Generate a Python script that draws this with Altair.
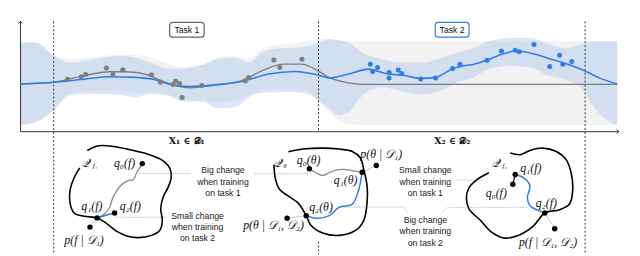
import altair as alt
import pandas as pd

# ---------------- data (diagram units = screen pixels) ----------------
# GP bands: common x grid
band_x = [20, 37, 54, 70, 87, 103, 120, 137, 153, 170, 185, 205, 220, 238, 252, 265, 282, 298, 312, 322,
          333, 343, 353, 367, 387, 407, 427, 447, 463, 480, 495, 518, 538, 555, 572, 588, 600, 612, 625]
blue_hi = [41, 41.7, 54.3, 61.7, 60, 56.7, 55, 56.7, 61.7, 68, 67.7, 64, 58, 56.7, 61.7, 51.7, 47.3, 46.7, 45, 41.7,
           37.7, 39, 41.7, 51.7, 58.3, 61.7, 61.7, 56.7, 51.7, 46.7, 40, 36.7, 36.7, 43, 47, 43.3, 40, 40, 40]
blue_lo = [125, 121.7, 110, 95, 93.3, 93.3, 94, 96.7, 93.3, 95, 101, 101, 108, 106.7, 96.7, 92.3, 91.7, 91.7, 93.3, 100,
           108, 115, 111.7, 95, 86.7, 91, 94, 90, 81.7, 76.7, 68.3, 65, 66.7, 75, 79, 86, 105, 118, 125]
grey_hi = [41, 41.7, 54.3, 58, 57, 55, 54, 54, 57, 63, 66, 64, 57, 55, 58, 48, 44, 42, 40, 38.3,
           38, 39, 40, 40, 40, 40, 40, 40, 40, 40, 40, 40, 40, 40, 40, 40, 40, 40, 40]
grey_lo = [125, 121.7, 110, 93, 91, 90, 90, 92, 92, 94, 99, 100, 102, 100, 95, 90, 89, 89, 91, 100,
           112, 120, 124, 125, 125, 125, 125, 125, 125, 125, 125, 125, 125, 125, 125, 125, 125, 125, 125]

grey_mean_x = [20, 54, 77, 93, 110, 127, 150, 163, 172, 192, 218, 245, 265, 288, 305, 322, 333, 347, 367, 625]
grey_mean_y = [83.5, 81.7, 76.7, 73.3, 71, 71, 74.3, 80, 83.3, 87.3, 84.3, 80, 70, 63.3, 63.3, 70, 76.7, 81, 83.8, 83.8]

blue_mean_x = [20, 54, 87, 110, 137, 157, 170, 192, 218, 248, 272, 298, 322, 333, 353, 373, 393, 407, 426, 441,
               458, 470, 480, 493, 508, 523, 542, 558, 575, 592, 608, 625]
blue_mean_y = [83.3, 81.7, 78.3, 76, 76.7, 79, 83.3, 86, 84.3, 80, 73.3, 70.7, 74.3, 77.3, 73.3, 68.3, 73.3, 74.3, 77.7, 76.7,
               68.3, 65, 63.3, 59.3, 53.3, 50, 53.3, 58.3, 63.3, 70, 77.7, 83.3]

task1_x = [68.3, 82.3, 86.7, 107.7, 114.3, 124.3, 153.3, 162.3, 175, 177.7, 181.7, 184.3, 204.3, 248.3, 251.7, 277.3, 283.3, 305.7]
task1_y = [78.6, 76, 73.7, 67.3, 73.7, 69, 74, 81.5, 83.8, 80.5, 83, 97, 85, 80, 76.7, 59.2, 66.7, 58.3]

task2_x = [375, 377.3, 382.3, 394, 394, 403.3, 406.7, 426, 441, 458.3, 465.7, 493.3, 507.7, 521.7, 525.7, 540.7, 556.7, 566.7, 570, 579]
task2_y = [63.3, 70.7, 66.7, 71.7, 77.3, 69.3, 72.7, 78.3, 77.3, 67.7, 63.3, 59.3, 50, 49.3, 50.7, 43.3, 65.7, 54.3, 63.3, 60.7]

# dashed task boundaries (x, y-start, y-end)
dash_x = [54.3, 322.5, 322.5, 592.5]
dash_y1 = [20, 20, 243, 20]
dash_y2 = [256, 131, 256, 256]

# task tags
tag_names = ["Task 1", "Task 2"]
tag_x1 = [171.7, 440.7]
tag_x2 = [206.7, 475]
tag_y1 = [21, 21]
tag_y2 = [36, 36]

# blob outlines
blob1_x = [88.3, 100, 115, 131.7, 148.3, 163.3, 171.7, 173.3, 170, 165, 162.7, 164.3, 161.7, 153.3, 140, 128.3,
           118.3, 108.3, 98.3, 85, 75, 70.7, 71, 75, 80.7]
blob1_y = [150.7, 146, 146.7, 150, 154, 160, 168.3, 178.3, 188.3, 198.3, 210, 221.7, 231.7, 236.7, 239, 237.3,
           232.7, 225, 219, 217.3, 214, 203.3, 190, 178.3, 168.3]
blob2_x = [277.3, 279, 283, 292, 302, 310, 315, 326.7, 343.3, 360, 368.3, 371.7, 371.7, 368.3, 365, 356.7, 343.3, 326.7, 306.7, 292]
blob2_y = [165, 180, 190, 197, 204, 216.7, 226.7, 234.3, 236.7, 231.7, 221.7, 203.3, 186.7, 170, 158.3, 151.7, 149.3, 148.3, 149.3, 152]
blob3_x = [495, 483.3, 475, 472.3, 475, 486.7, 496.7, 510, 523.3, 540, 551.7, 566.7, 576.7, 580, 578.3, 573.3, 563.3,
           550, 536.7, 526.7, 516.7]
blob3_y = [173.3, 180, 188.3, 198.3, 210, 221.7, 232.7, 239.3, 237.3, 227.3, 214, 210.7, 205, 190, 173.3, 160, 151.7,
           148.3, 150.7, 155, 153.3]

# optimisation paths
grey_path1_x = [144, 138.3, 135, 128.3, 121.7, 115, 110, 103.3, 98.3]
grey_path1_y = [164, 173.3, 180, 181.7, 186.7, 196.7, 210, 216.7, 219]
blue_path1_x = [98.3, 108, 116]
blue_path1_y = [219, 216, 214]
grey_path2_x = [313.3, 320, 326.7, 333.3, 340, 350, 360, 366.7]
grey_path2_y = [169.3, 173.3, 176, 173.3, 170.7, 170, 171.7, 172.7]
blue_path2_x = [366.7, 363.3, 356.7, 343.3, 333.3, 320, 310]
blue_path2_y = [172.7, 190, 205, 208.3, 216.7, 219.3, 216.7]
blue_path3_x = [521.7, 530, 536.7, 534, 536.7, 543.3, 551.7]
blue_path3_y = [175, 178.3, 186.7, 198.3, 206.7, 210.7, 214]

# dots in the diagrams
dot_x = [144, 98.3, 116, 91, 313.3, 366.7, 381, 310, 290.7, 521.7, 519.3, 551.7, 561.7]
dot_y = [164, 219, 214, 228.3, 169.3, 172.7, 166, 216.7, 219.3, 175, 185, 214, 230]

# thin grey links (id, x, y)
link_id = ["a", "a", "b", "b", "c", "c", "d", "d", "e", "e"]
link_x = [91, 98.3, 381, 366.7, 290.7, 310, 561.7, 551.7, 519.3, 521.7]
link_y = [228.3, 219, 166, 172.7, 219.3, 216.7, 230, 214, 185, 175]

# dotted connectors to the captions
conn_id = ["c1", "c1", "c2", "c2", "c3", "c3", "c4", "c4", "c5", "c5", "c5", "c6", "c6", "c6"]
conn_x = [140, 193, 258, 312, 116.7, 168, 461.7, 488, 343.3, 408, 413, 448.3, 453.3, 534]
conn_y = [174, 174, 174.3, 174.3, 218.3, 218.3, 180.7, 180.7, 208, 208, 214, 212.7, 208.3, 208.3]

# captions
cap_text = ["Big change\nwhen training\non task 1", "Small change\nwhen training\non task 2",
            "Small change\nwhen training\non task 1", "Big change\nwhen training\non task 2"]
cap_x = [225.7, 200, 430.7, 430.7]
cap_y = [171, 216.7, 171, 221]

# math labels
math_text = ["𝒬", "q₀(f)", "q₁(f)", "q₂(f)", "p(f | 𝒟₁)",
             "𝒬", "q₀(θ)", "q₁(θ)", "p(θ | 𝒟₁)", "q₂(θ)", "p(θ | 𝒟₁, 𝒟₂)",
             "𝒬", "q₁(f)", "q₀(f)", "q₂(f)", "p(f | 𝒟₁, 𝒟₂)"]
math_x = [86, 126, 93, 132, 85,
          280, 312.5, 350, 386, 325, 277,
          501, 537.5, 502.5, 553.3, 555]
math_y = [163, 163, 207, 207, 241,
          163, 160, 181, 154, 208.5, 226,
          163, 168.5, 193.5, 203.5, 243.5]
sub_text = ["f₁", "θ", "f₂"]
sub_x = [96, 288.5, 511]
sub_y = [166, 166, 166]

xlab_text = ["X₁ ∈ 𝒟₁", "X₂ ∈ 𝒟₂"]
xlab_x = [189, 458]
xlab_y = [141, 141]

# ---------------- build ----------------
xs = alt.Scale(domain=[8, 640], nice=False, zero=False)
ys = alt.Scale(domain=[8, 256], nice=False, zero=False, reverse=True)
X = lambda f="x": alt.X(f + ":Q", scale=xs, axis=None)
Y = lambda f="y": alt.Y(f + ":Q", scale=ys, axis=None)

BLUE = "#2f7ee6"
GREY = "#7f7f7f"

band = pd.DataFrame({"x": band_x, "bhi": blue_hi, "blo": blue_lo, "ghi": grey_hi, "glo": grey_lo})
grey_band = alt.Chart(band).mark_area(color="#dcdcdc", opacity=0.38, interpolate="monotone").encode(
    x=X(), y=Y("ghi"), y2="glo:Q")
blue_band = alt.Chart(band).mark_area(color="#a9c5ec", opacity=0.42, interpolate="monotone").encode(
    x=X(), y=Y("bhi"), y2="blo:Q")

gm = pd.DataFrame({"x": grey_mean_x, "y": grey_mean_y})
bm = pd.DataFrame({"x": blue_mean_x, "y": blue_mean_y})
grey_line = alt.Chart(gm).mark_line(color=GREY, strokeWidth=1.4, interpolate="monotone").encode(x=X(), y=Y())
blue_line = alt.Chart(bm).mark_line(color=BLUE, strokeWidth=1.6, interpolate="monotone").encode(x=X(), y=Y())

p1 = alt.Chart(pd.DataFrame({"x": task1_x, "y": task1_y})).mark_circle(color=GREY, size=26, opacity=1).encode(x=X(), y=Y())
p2 = alt.Chart(pd.DataFrame({"x": task2_x, "y": task2_y})).mark_circle(color=BLUE, size=26, opacity=1).encode(x=X(), y=Y())

# axes of the top panel
axes_df = pd.DataFrame({"id": ["v", "v", "h", "h"], "x": [20.7, 20.7, 20.7, 626.5], "y": [20, 131.7, 131.7, 131.7]})
axes = alt.Chart(axes_df).mark_line(color="#333", strokeWidth=1).encode(x=X(), y=Y(), detail="id:N")
arrow_up = alt.Chart(pd.DataFrame({"x": [20.7], "y": [20]})).mark_point(
    shape="M-1,1L0,0L1,1", filled=False, color="#333", size=18, strokeWidth=1, opacity=1).encode(x=X(), y=Y())
arrow_rt = alt.Chart(pd.DataFrame({"x": [626.5], "y": [131.7]})).mark_point(
    shape="M-1,-1L0,0L-1,1", filled=False, color="#333", size=18, strokeWidth=1, opacity=1).encode(x=X(), y=Y())

dashes = alt.Chart(pd.DataFrame({"x": dash_x, "y": dash_y1, "y2": dash_y2})).mark_rule(
    color="#333", strokeWidth=1, strokeDash=[2, 2]).encode(x=X(), y=Y(), y2="y2:Q")

tags = pd.DataFrame({"t": tag_names, "x": tag_x1, "x2": tag_x2, "y": tag_y1, "y2": tag_y2,
                     "cx": [(a + b) / 2 for a, b in zip(tag_x1, tag_x2)],
                     "cy": [(a + b) / 2 for a, b in zip(tag_y1, tag_y2)]})
tag_box = alt.Chart(tags).mark_rect(fill="white", strokeWidth=1.2, cornerRadius=3).encode(
    x=X(), x2="x2:Q", y=Y(), y2="y2:Q",
    stroke=alt.Stroke("t:N", scale=alt.Scale(domain=tag_names, range=["#666", BLUE]), legend=None))
tag_txt = alt.Chart(tags).mark_text(font="Liberation Sans", fontSize=8.8, color="#111", baseline="middle").encode(
    x=X("cx"), y=Y("cy"), text="t:N")

xlab = alt.Chart(pd.DataFrame({"t": xlab_text, "x": xlab_x, "y": xlab_y})).mark_text(
    font="DejaVu Serif", fontSize=9.5, fontWeight="bold", color="#111", baseline="middle").encode(
    x=X(), y=Y(), text="t:N")

# blobs
rows = []
for bid, bx, by in (("b1", blob1_x, blob1_y), ("b2", blob2_x, blob2_y), ("b3", blob3_x, blob3_y)):
    for i, (a, b) in enumerate(zip(bx, by)):
        rows.append({"id": bid, "o": i, "x": a, "y": b})
blobs = alt.Chart(pd.DataFrame(rows)).mark_line(color="#000", strokeWidth=1.6, interpolate="catmull-rom").encode(
    x=X(), y=Y(), detail="id:N", order="o:Q")

def path_df(pairs):
    rr = []
    for pid, px, py in pairs:
        for i, (a, b) in enumerate(zip(px, py)):
            rr.append({"id": pid, "o": i, "x": a, "y": b})
    return pd.DataFrame(rr)

gpaths = alt.Chart(path_df([("g1", grey_path1_x, grey_path1_y), ("g2", grey_path2_x, grey_path2_y)])).mark_line(
    color="#8a8a8a", strokeWidth=1.3, interpolate="catmull-rom").encode(x=X(), y=Y(), detail="id:N", order="o:Q")
bpaths = alt.Chart(path_df([("p1", blue_path1_x, blue_path1_y), ("p2", blue_path2_x, blue_path2_y),
                            ("p3", blue_path3_x, blue_path3_y)])).mark_line(
    color=BLUE, strokeWidth=1.5, interpolate="catmull-rom").encode(x=X(), y=Y(), detail="id:N", order="o:Q")

links_df = pd.DataFrame({"id": link_id, "x": link_x, "y": link_y})
links = alt.Chart(links_df[links_df.id != "e"]).mark_line(color="#c8c8c8", strokeWidth=1).encode(
    x=X(), y=Y(), detail="id:N")
link_black = alt.Chart(links_df[links_df.id == "e"]).mark_line(color="#000", strokeWidth=1.2).encode(
    x=X(), y=Y(), detail="id:N")

conns = alt.Chart(pd.DataFrame({"id": conn_id, "x": conn_x, "y": conn_y,
                                "o": list(range(len(conn_x)))})).mark_line(
    color="#bdbdbd", strokeWidth=1, strokeDash=[1.5, 1]).encode(x=X(), y=Y(), detail="id:N", order="o:Q")

dots = alt.Chart(pd.DataFrame({"x": dot_x, "y": dot_y})).mark_circle(color="#000", size=30, opacity=1).encode(x=X(), y=Y())

caps = alt.Chart(pd.DataFrame({"t": cap_text, "x": cap_x, "y": cap_y})).mark_text(
    font="Liberation Sans", fontSize=8.8, color="#222", lineBreak="\n", lineHeight=11.5, baseline="middle").encode(
    x=X(), y=Y(), text="t:N")

maths = alt.Chart(pd.DataFrame({"t": math_text, "x": math_x, "y": math_y})).mark_text(
    font="Liberation Serif", fontSize=12, fontStyle="italic", color="#111", baseline="middle").encode(
    x=X(), y=Y(), text="t:N")
subs = alt.Chart(pd.DataFrame({"t": sub_text, "x": sub_x, "y": sub_y})).mark_text(
    font="Liberation Serif", fontSize=7, fontStyle="italic", color="#111", baseline="middle").encode(
    x=X(), y=Y(), text="t:N")

chart = alt.layer(
    grey_band, blue_band, dashes, axes, arrow_up, arrow_rt,
    grey_line, blue_line, p1, p2, tag_box, tag_txt, xlab,
    conns, links, link_black, blobs, gpaths, bpaths, dots, caps, maths, subs
).properties(width=632, height=248, padding=0, autosize="none").configure_view(stroke=None)

chart.save("out.html", embed_options={"renderer": "svg", "actions": False})
